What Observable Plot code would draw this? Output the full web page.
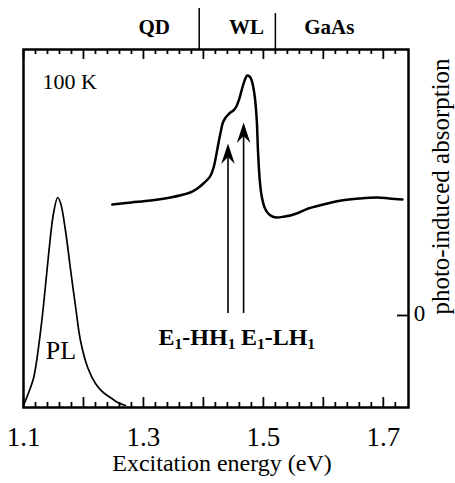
<!DOCTYPE html>
<html><head><meta charset="utf-8">
<script src="https://cdn.jsdelivr.net/npm/d3@7"></script>
<script src="https://cdn.jsdelivr.net/npm/@observablehq/plot@0.6"></script>
<style>body{margin:0;background:#fff}</style>
</head><body><div id="chart"></div>
<script>
// photo-induced absorption spectrum
const absE = [1.248,1.28,1.312,1.345,1.367,1.378,1.39,1.40,1.407,1.412,1.417,1.42,1.425,1.429,1.432,1.436,1.44,1.445,1.45,1.455,1.46,1.465,1.47,1.473,1.477,1.48,1.483,1.486,1.489,1.491,1.494,1.497,1.502,1.508,1.515,1.523,1.535,1.545,1.56,1.575,1.6,1.63,1.66,1.69,1.71,1.732];
const absY = [1.11,1.13,1.15,1.18,1.21,1.23,1.27,1.32,1.36,1.40,1.48,1.56,1.72,1.84,1.92,1.97,2.00,2.03,2.05,2.09,2.17,2.28,2.37,2.40,2.39,2.36,2.29,2.17,1.95,1.65,1.35,1.20,1.08,1.02,0.99,0.98,0.99,1.00,1.03,1.07,1.11,1.15,1.17,1.18,1.17,1.16];
// photoluminescence spectrum
const plE = [1.100,1.108,1.117,1.125,1.133,1.142,1.150,1.157,1.162,1.170,1.178,1.187,1.195,1.207,1.220,1.233,1.245,1.257,1.270];
const plY = [-0.90,-0.78,-0.62,-0.32,0.08,0.62,1.02,1.18,1.12,0.85,0.48,0.08,-0.25,-0.52,-0.68,-0.77,-0.82,-0.87,-0.90];
// axes
const xDomain = [1.1, 1.742];
const yDomain = [-0.92, 2.66];
const xTickLabels = [1.1, 1.3, 1.5, 1.7];
const xMajorTicks = [1.1, 1.2, 1.3, 1.4, 1.5, 1.6, 1.7];
const xMinorTicks = [1.12,1.14,1.16,1.18,1.22,1.24,1.26,1.28,1.32,1.34,1.36,1.38,1.42,1.44,1.46,1.48,1.52,1.54,1.56,1.58,1.62,1.64,1.66,1.68,1.72];
const yTickLabels = [0];
// region labels above the frame
const regionNames = ["QD", "WL", "GaAs"];
const regionCenters = [1.318, 1.472, 1.610];
const regionBounds = [1.393, 1.52];
const regionBoundTops = [3.07, 3.02];
// transitions
const transitionNames = ["E1-HH1", "E1-LH1"];
const transitionE = [1.441, 1.467];
const arrowTipY = [1.72, 1.93];
const arrowBaseY = [0.10, 0.10];
const transitionLabelE = [1.4535, 1.4625];
const transitionLabelY = [-0.29, -0.29];
const transitionAnchor = ["end", "start"];
// other labels
const tempLabel = "100 K";
const plLabel = {text: "PL", e: 1.1625, y: -0.43};
const xLabel = "Excitation energy (eV)";
const yLabel = "photo-induced absorption";

const absData = absE.map((e, i) => ({e, v: absY[i]}));
const plData = plE.map((e, i) => ({e, v: plY[i]}));
const regions = regionNames.map((n, i) => ({n, e: regionCenters[i]}));
const bounds = regionBounds.map((e, i) => ({e, top: regionBoundTops[i]}));
const transitions = transitionNames.map((n, i) => ({n, e: transitionE[i], tip: arrowTipY[i], base: arrowBaseY[i], le: transitionLabelE[i], ly: transitionLabelY[i], anchor: transitionAnchor[i]}));

const W = 455, H = 483, mL = 23, mR = 47, mT = 49, mB = 76;
const fw = W - mL - mR, fh = H - mT - mB;

const arrowHead = {
  draw(ctx) {
    ctx.moveTo(0, 0);
    ctx.lineTo(6.8, 20.5);
    ctx.lineTo(0, 13.5);
    ctx.lineTo(-6.8, 20.5);
    ctx.closePath();
  }
};

const serif = "'Liberation Serif','Times New Roman',Times,serif";

const chart = Plot.plot({
  width: W, height: H,
  marginLeft: mL, marginRight: mR, marginTop: mT, marginBottom: mB,
  style: {fontFamily: serif, background: "white", color: "black", overflow: "visible"},
  x: {domain: xDomain, axis: null},
  y: {domain: yDomain, axis: null},
  marks: [
    // ticks (inward)
    Plot.tickX(xMajorTicks, {x: d => d, insetBottom: fh - 10, strokeWidth: 1.8}),
    Plot.tickX(xMinorTicks, {x: d => d, insetBottom: fh - 5, strokeWidth: 1.8}),
    Plot.tickX(xMajorTicks, {x: d => d, insetTop: fh - 10, strokeWidth: 1.8}),
    Plot.tickX(xMinorTicks, {x: d => d, insetTop: fh - 5, strokeWidth: 1.8}),
    Plot.tickY(yTickLabels, {y: d => d, insetLeft: fw - 11, strokeWidth: 1.8}),
    // curves
    Plot.line(plData, {x: "e", y: "v", stroke: "black", strokeWidth: 1.7, curve: "catmull-rom"}),
    Plot.line(absData, {x: "e", y: "v", stroke: "black", strokeWidth: 2.5, curve: "catmull-rom"}),
    // arrows
    Plot.ruleX(transitions, {x: "e", y1: "base", y2: "tip", strokeWidth: 1.6, dy: 8}),
    Plot.dot(transitions, {x: "e", y: "tip", symbol: arrowHead, r: 10, fill: "black", stroke: null}),
    // region dividers and labels
    Plot.ruleX(bounds, {x: "e", y1: yDomain[1], y2: "top", strokeWidth: 1.5}),
    Plot.text(regions, {x: "e", text: "n", frameAnchor: "top", dy: -16, lineAnchor: "bottom", fontSize: 21, fontWeight: "bold", letterSpacing: 2}),
    // transition labels
    Plot.text(transitions, {x: "le", y: "ly", text: "n", textAnchor: "end", filter: d => d.anchor === "end", fontSize: 24, fontWeight: "bold", lineAnchor: "bottom", letterSpacing: 2}),
    Plot.text(transitions, {x: "le", y: "ly", text: "n", textAnchor: "start", filter: d => d.anchor === "start", fontSize: 24, fontWeight: "bold", lineAnchor: "bottom", letterSpacing: 2}),
    // PL label, temperature
    Plot.text([plLabel], {x: "e", y: "y", text: "text", fontSize: 26, lineAnchor: "bottom"}),
    Plot.text([tempLabel], {frameAnchor: "top-left", dx: 19, dy: 39, textAnchor: "start", lineAnchor: "bottom", fontSize: 22}),
    // x tick labels & title
    Plot.text(xTickLabels, {x: d => d, text: d => d.toFixed(1), frameAnchor: "bottom", dy: 38, lineAnchor: "bottom", fontSize: 27}),
    Plot.text([xLabel], {frameAnchor: "bottom", textAnchor: "middle", dx: 6, dy: 63, lineAnchor: "bottom", fontSize: 24, letterSpacing: 1.2}),
    // y tick label & title
    Plot.text(yTickLabels, {y: d => d, text: d => String(d), frameAnchor: "right", dx: 11, dy: -2, textAnchor: "middle", lineAnchor: "middle", fontSize: 23}),
    Plot.text([yLabel], {frameAnchor: "right", textAnchor: "middle", dx: 32, dy: -42, rotate: -90, fontSize: 25, lineAnchor: "middle", letterSpacing: 1.2}),
    Plot.frame({stroke: "black", strokeWidth: 2.5})
  ]
});

// subscripts for transition labels
chart.querySelectorAll("text").forEach(t => {
  const s = t.textContent;
  if (!/^E1-[A-Z]+1$/.test(s)) return;
  t.textContent = "";
  const parts = [["E", false], ["1", true], [s.slice(2, -1), false], ["1", true]];
  let shifted = false;
  for (const [str, sub] of parts) {
    const ts = document.createElementNS("http://www.w3.org/2000/svg", "tspan");
    ts.textContent = str;
    if (sub) { ts.setAttribute("dy", "0.3em"); ts.setAttribute("font-size", "65%"); shifted = true; }
    else if (shifted) { ts.setAttribute("dy", "-0.195em"); shifted = false; }
    t.appendChild(ts);
  }
});

document.getElementById("chart").appendChild(chart);
</script>
</body></html>
